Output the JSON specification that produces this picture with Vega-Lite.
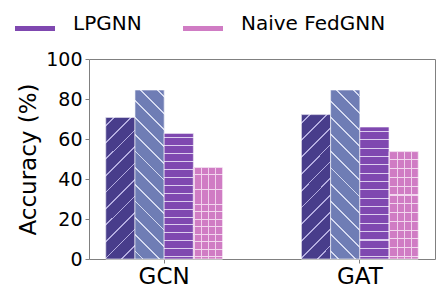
{
  "$schema": "https://vega.github.io/schema/vega-lite/v6.json",
  "width": 346,
  "height": 200,
  "autosize": {"type": "none"},
  "padding": {"left": 89, "top": 59, "right": 8, "bottom": 36},
  "config": {
    "font": "DejaVu Sans",
    "view": {"stroke": "#808080", "strokeWidth": 1},
    "axis": {"domainColor": "#808080", "tickColor": "#808080", "labelColor": "#000", "titleColor": "#000", "grid": false}
  },
  "data": {
    "values": [
      {"model": "GCN", "method": "Centralized GNN", "acc": 70.8},
      {"model": "GCN", "method": "Local GNN", "acc": 84.5},
      {"model": "GCN", "method": "LPGNN", "acc": 62.8},
      {"model": "GCN", "method": "Naive FedGNN", "acc": 45.8},
      {"model": "GAT", "method": "Centralized GNN", "acc": 72.2},
      {"model": "GAT", "method": "Local GNN", "acc": 84.5},
      {"model": "GAT", "method": "LPGNN", "acc": 66.0},
      {"model": "GAT", "method": "Naive FedGNN", "acc": 53.7}
    ]
  },
  "encoding": {
    "x": {
      "field": "model", "type": "nominal", "sort": ["GCN", "GAT"],
      "scale": {"paddingInner": 0.403, "paddingOuter": 0.0857},
      "axis": {"title": null, "labelAngle": 0, "labelFontSize": 23, "labelPadding": 2, "tickSize": 4, "domain": false}
    },
    "xOffset": {
      "field": "method", "type": "nominal",
      "sort": ["Centralized GNN", "Local GNN", "LPGNN", "Naive FedGNN"],
      "scale": {"domain": ["Centralized GNN", "Local GNN", "LPGNN", "Naive FedGNN"], "paddingInner": 0, "paddingOuter": 0}
    },
    "y": {
      "field": "acc", "type": "quantitative",
      "scale": {"domain": [0, 100], "nice": false},
      "axis": {"values": [0, 20, 40, 60, 80, 100], "title": "Accuracy (%)", "titleFontSize": 23, "titleFontWeight": "normal", "titlePadding": 5, "labelFontSize": 19, "labelPadding": 3, "tickSize": 4, "domain": false}
    }
  },
  "layer": [
    {
      "mark": {"type": "bar", "stroke": "white", "strokeWidth": 0.6},
      "encoding": {
        "color": {
          "field": "method", "type": "nominal",
          "scale": {
            "domain": ["Centralized GNN", "Local GNN", "LPGNN", "Naive FedGNN"],
            "range": ["#483D8B", "#6F7DB5", "#7F48B0", "#D07CC4"]
          },
          "legend": {
            "values": ["LPGNN", "Naive FedGNN"],
            "title": null,
            "orient": "none",
            "direction": "horizontal",
            "columns": 2,
            "legendX": -74,
            "legendY": -55,
            "symbolType": "M-1,0.1H1V0.35H-1Z",
            "symbolSize": 1600,
            "symbolStrokeWidth": 0,
            "labelFontSize": 20,
            "labelColor": "#000",
            "labelOffset": 18,
            "columnPadding": 41
          }
        }
      }
    },
    {
      "transform": [{"filter": "datum.method === 'Centralized GNN'"}],
      "mark": {"type": "bar", "stroke": "white", "strokeWidth": 0.6, "color": {"gradient": "linear", "x1": 0, "y1": 0, "x2": 0.2365, "y2": 1.1563, "stops": [
        {"offset": 0, "color": "#483D8B"},
        {"offset": 0.045, "color": "#483D8B"}, {"offset": 0.045, "color": "#B4ADE0"}, {"offset": 0.055, "color": "#B4ADE0"}, {"offset": 0.055, "color": "#483D8B"},
        {"offset": 0.142, "color": "#483D8B"}, {"offset": 0.142, "color": "#B4ADE0"}, {"offset": 0.152, "color": "#B4ADE0"}, {"offset": 0.152, "color": "#483D8B"},
        {"offset": 0.239, "color": "#483D8B"}, {"offset": 0.239, "color": "#B4ADE0"}, {"offset": 0.249, "color": "#B4ADE0"}, {"offset": 0.249, "color": "#483D8B"},
        {"offset": 0.336, "color": "#483D8B"}, {"offset": 0.336, "color": "#B4ADE0"}, {"offset": 0.346, "color": "#B4ADE0"}, {"offset": 0.346, "color": "#483D8B"},
        {"offset": 0.433, "color": "#483D8B"}, {"offset": 0.433, "color": "#B4ADE0"}, {"offset": 0.443, "color": "#B4ADE0"}, {"offset": 0.443, "color": "#483D8B"},
        {"offset": 0.530, "color": "#483D8B"}, {"offset": 0.530, "color": "#B4ADE0"}, {"offset": 0.540, "color": "#B4ADE0"}, {"offset": 0.540, "color": "#483D8B"},
        {"offset": 0.626, "color": "#483D8B"}, {"offset": 0.626, "color": "#B4ADE0"}, {"offset": 0.636, "color": "#B4ADE0"}, {"offset": 0.636, "color": "#483D8B"},
        {"offset": 0.723, "color": "#483D8B"}, {"offset": 0.723, "color": "#B4ADE0"}, {"offset": 0.733, "color": "#B4ADE0"}, {"offset": 0.733, "color": "#483D8B"},
        {"offset": 0.820, "color": "#483D8B"}, {"offset": 0.820, "color": "#B4ADE0"}, {"offset": 0.830, "color": "#B4ADE0"}, {"offset": 0.830, "color": "#483D8B"},
        {"offset": 0.917, "color": "#483D8B"}, {"offset": 0.917, "color": "#B4ADE0"}, {"offset": 0.927, "color": "#B4ADE0"}, {"offset": 0.927, "color": "#483D8B"},
        {"offset": 1, "color": "#483D8B"}
      ]}}
    },
    {
      "transform": [{"filter": "datum.method === 'Local GNN'"}],
      "mark": {"type": "bar", "stroke": "white", "strokeWidth": 0.6, "color": {"gradient": "linear", "x1": 0, "y1": 1, "x2": 0.197, "y2": -0.139, "stops": [
        {"offset": 0, "color": "#6F7DB5"},
        {"offset": 0.0355, "color": "#6F7DB5"}, {"offset": 0.0355, "color": "#D5DAF0"}, {"offset": 0.0445, "color": "#D5DAF0"}, {"offset": 0.0445, "color": "#6F7DB5"},
        {"offset": 0.1195, "color": "#6F7DB5"}, {"offset": 0.1195, "color": "#D5DAF0"}, {"offset": 0.1285, "color": "#D5DAF0"}, {"offset": 0.1285, "color": "#6F7DB5"},
        {"offset": 0.2035, "color": "#6F7DB5"}, {"offset": 0.2035, "color": "#D5DAF0"}, {"offset": 0.2125, "color": "#D5DAF0"}, {"offset": 0.2125, "color": "#6F7DB5"},
        {"offset": 0.2885, "color": "#6F7DB5"}, {"offset": 0.2885, "color": "#D5DAF0"}, {"offset": 0.2975, "color": "#D5DAF0"}, {"offset": 0.2975, "color": "#6F7DB5"},
        {"offset": 0.3725, "color": "#6F7DB5"}, {"offset": 0.3725, "color": "#D5DAF0"}, {"offset": 0.3815, "color": "#D5DAF0"}, {"offset": 0.3815, "color": "#6F7DB5"},
        {"offset": 0.4565, "color": "#6F7DB5"}, {"offset": 0.4565, "color": "#D5DAF0"}, {"offset": 0.4655, "color": "#D5DAF0"}, {"offset": 0.4655, "color": "#6F7DB5"},
        {"offset": 0.5405, "color": "#6F7DB5"}, {"offset": 0.5405, "color": "#D5DAF0"}, {"offset": 0.5495, "color": "#D5DAF0"}, {"offset": 0.5495, "color": "#6F7DB5"},
        {"offset": 0.6245, "color": "#6F7DB5"}, {"offset": 0.6245, "color": "#D5DAF0"}, {"offset": 0.6335, "color": "#D5DAF0"}, {"offset": 0.6335, "color": "#6F7DB5"},
        {"offset": 0.7095, "color": "#6F7DB5"}, {"offset": 0.7095, "color": "#D5DAF0"}, {"offset": 0.7185, "color": "#D5DAF0"}, {"offset": 0.7185, "color": "#6F7DB5"},
        {"offset": 0.7935, "color": "#6F7DB5"}, {"offset": 0.7935, "color": "#D5DAF0"}, {"offset": 0.8025, "color": "#D5DAF0"}, {"offset": 0.8025, "color": "#6F7DB5"},
        {"offset": 0.8775, "color": "#6F7DB5"}, {"offset": 0.8775, "color": "#D5DAF0"}, {"offset": 0.8865, "color": "#D5DAF0"}, {"offset": 0.8865, "color": "#6F7DB5"},
        {"offset": 0.9615, "color": "#6F7DB5"}, {"offset": 0.9615, "color": "#D5DAF0"}, {"offset": 0.9705, "color": "#D5DAF0"}, {"offset": 0.9705, "color": "#6F7DB5"},
        {"offset": 1, "color": "#6F7DB5"}
      ]}}
    },
    {
      "transform": [{"filter": "datum.method === 'LPGNN'"}],
      "mark": {"type": "bar", "stroke": "white", "strokeWidth": 0.6, "color": {"gradient": "linear", "x1": 0, "y1": 0, "x2": 0, "y2": 1, "stops": [
        {"offset": 0, "color": "#7F48B0"},
        {"offset": 0.030, "color": "#7F48B0"}, {"offset": 0.030, "color": "#DCCDEE"}, {"offset": 0.038, "color": "#DCCDEE"}, {"offset": 0.038, "color": "#7F48B0"},
        {"offset": 0.094, "color": "#7F48B0"}, {"offset": 0.094, "color": "#DCCDEE"}, {"offset": 0.102, "color": "#DCCDEE"}, {"offset": 0.102, "color": "#7F48B0"},
        {"offset": 0.157, "color": "#7F48B0"}, {"offset": 0.157, "color": "#DCCDEE"}, {"offset": 0.165, "color": "#DCCDEE"}, {"offset": 0.165, "color": "#7F48B0"},
        {"offset": 0.220, "color": "#7F48B0"}, {"offset": 0.220, "color": "#DCCDEE"}, {"offset": 0.228, "color": "#DCCDEE"}, {"offset": 0.228, "color": "#7F48B0"},
        {"offset": 0.283, "color": "#7F48B0"}, {"offset": 0.283, "color": "#DCCDEE"}, {"offset": 0.291, "color": "#DCCDEE"}, {"offset": 0.291, "color": "#7F48B0"},
        {"offset": 0.346, "color": "#7F48B0"}, {"offset": 0.346, "color": "#DCCDEE"}, {"offset": 0.354, "color": "#DCCDEE"}, {"offset": 0.354, "color": "#7F48B0"},
        {"offset": 0.409, "color": "#7F48B0"}, {"offset": 0.409, "color": "#DCCDEE"}, {"offset": 0.417, "color": "#DCCDEE"}, {"offset": 0.417, "color": "#7F48B0"},
        {"offset": 0.473, "color": "#7F48B0"}, {"offset": 0.473, "color": "#DCCDEE"}, {"offset": 0.481, "color": "#DCCDEE"}, {"offset": 0.481, "color": "#7F48B0"},
        {"offset": 0.536, "color": "#7F48B0"}, {"offset": 0.536, "color": "#DCCDEE"}, {"offset": 0.544, "color": "#DCCDEE"}, {"offset": 0.544, "color": "#7F48B0"},
        {"offset": 0.599, "color": "#7F48B0"}, {"offset": 0.599, "color": "#DCCDEE"}, {"offset": 0.607, "color": "#DCCDEE"}, {"offset": 0.607, "color": "#7F48B0"},
        {"offset": 0.662, "color": "#7F48B0"}, {"offset": 0.662, "color": "#DCCDEE"}, {"offset": 0.670, "color": "#DCCDEE"}, {"offset": 0.670, "color": "#7F48B0"},
        {"offset": 0.725, "color": "#7F48B0"}, {"offset": 0.725, "color": "#DCCDEE"}, {"offset": 0.733, "color": "#DCCDEE"}, {"offset": 0.733, "color": "#7F48B0"},
        {"offset": 0.788, "color": "#7F48B0"}, {"offset": 0.788, "color": "#DCCDEE"}, {"offset": 0.796, "color": "#DCCDEE"}, {"offset": 0.796, "color": "#7F48B0"},
        {"offset": 0.852, "color": "#7F48B0"}, {"offset": 0.852, "color": "#DCCDEE"}, {"offset": 0.860, "color": "#DCCDEE"}, {"offset": 0.860, "color": "#7F48B0"},
        {"offset": 0.915, "color": "#7F48B0"}, {"offset": 0.915, "color": "#DCCDEE"}, {"offset": 0.923, "color": "#DCCDEE"}, {"offset": 0.923, "color": "#7F48B0"},
        {"offset": 0.978, "color": "#7F48B0"}, {"offset": 0.978, "color": "#DCCDEE"}, {"offset": 0.986, "color": "#DCCDEE"}, {"offset": 0.986, "color": "#7F48B0"},
        {"offset": 1, "color": "#7F48B0"}
      ]}}
    },
    {
      "transform": [{"filter": "datum.method === 'Naive FedGNN'"}],
      "mark": {"type": "bar", "stroke": "white", "strokeWidth": 0.6, "color": {"gradient": "linear", "x1": 0, "y1": 0, "x2": 0, "y2": 1, "stops": [
        {"offset": 0, "color": "#D07CC4"},
        {"offset": 0.072, "color": "#D07CC4"}, {"offset": 0.072, "color": "#F2D6EE"}, {"offset": 0.082, "color": "#F2D6EE"}, {"offset": 0.082, "color": "#D07CC4"},
        {"offset": 0.154, "color": "#D07CC4"}, {"offset": 0.154, "color": "#F2D6EE"}, {"offset": 0.164, "color": "#F2D6EE"}, {"offset": 0.164, "color": "#D07CC4"},
        {"offset": 0.236, "color": "#D07CC4"}, {"offset": 0.236, "color": "#F2D6EE"}, {"offset": 0.246, "color": "#F2D6EE"}, {"offset": 0.246, "color": "#D07CC4"},
        {"offset": 0.318, "color": "#D07CC4"}, {"offset": 0.318, "color": "#F2D6EE"}, {"offset": 0.328, "color": "#F2D6EE"}, {"offset": 0.328, "color": "#D07CC4"},
        {"offset": 0.399, "color": "#D07CC4"}, {"offset": 0.399, "color": "#F2D6EE"}, {"offset": 0.409, "color": "#F2D6EE"}, {"offset": 0.409, "color": "#D07CC4"},
        {"offset": 0.481, "color": "#D07CC4"}, {"offset": 0.481, "color": "#F2D6EE"}, {"offset": 0.491, "color": "#F2D6EE"}, {"offset": 0.491, "color": "#D07CC4"},
        {"offset": 0.563, "color": "#D07CC4"}, {"offset": 0.563, "color": "#F2D6EE"}, {"offset": 0.573, "color": "#F2D6EE"}, {"offset": 0.573, "color": "#D07CC4"},
        {"offset": 0.645, "color": "#D07CC4"}, {"offset": 0.645, "color": "#F2D6EE"}, {"offset": 0.655, "color": "#F2D6EE"}, {"offset": 0.655, "color": "#D07CC4"},
        {"offset": 0.727, "color": "#D07CC4"}, {"offset": 0.727, "color": "#F2D6EE"}, {"offset": 0.737, "color": "#F2D6EE"}, {"offset": 0.737, "color": "#D07CC4"},
        {"offset": 0.808, "color": "#D07CC4"}, {"offset": 0.808, "color": "#F2D6EE"}, {"offset": 0.818, "color": "#F2D6EE"}, {"offset": 0.818, "color": "#D07CC4"},
        {"offset": 0.890, "color": "#D07CC4"}, {"offset": 0.890, "color": "#F2D6EE"}, {"offset": 0.900, "color": "#F2D6EE"}, {"offset": 0.900, "color": "#D07CC4"},
        {"offset": 0.972, "color": "#D07CC4"}, {"offset": 0.972, "color": "#F2D6EE"}, {"offset": 0.982, "color": "#F2D6EE"}, {"offset": 0.982, "color": "#D07CC4"},
        {"offset": 1, "color": "#D07CC4"}
      ]}}
    },
    {
      "transform": [{"filter": "datum.method === 'Naive FedGNN'"}],
      "mark": {"type": "bar", "color": {"gradient": "linear", "x1": 0, "y1": 0, "x2": 1, "y2": 0, "stops": [
        {"offset": 0, "color": "rgba(255,255,255,0)"},
        {"offset": 0.013, "color": "rgba(255,255,255,0)"}, {"offset": 0.013, "color": "rgba(242,214,238,0.95)"}, {"offset": 0.047, "color": "rgba(242,214,238,0.95)"}, {"offset": 0.047, "color": "rgba(255,255,255,0)"},
        {"offset": 0.259, "color": "rgba(255,255,255,0)"}, {"offset": 0.259, "color": "rgba(242,214,238,0.95)"}, {"offset": 0.293, "color": "rgba(242,214,238,0.95)"}, {"offset": 0.293, "color": "rgba(255,255,255,0)"},
        {"offset": 0.505, "color": "rgba(255,255,255,0)"}, {"offset": 0.505, "color": "rgba(242,214,238,0.95)"}, {"offset": 0.539, "color": "rgba(242,214,238,0.95)"}, {"offset": 0.539, "color": "rgba(255,255,255,0)"},
        {"offset": 0.751, "color": "rgba(255,255,255,0)"}, {"offset": 0.751, "color": "rgba(242,214,238,0.95)"}, {"offset": 0.785, "color": "rgba(242,214,238,0.95)"}, {"offset": 0.785, "color": "rgba(255,255,255,0)"},
        {"offset": 1, "color": "rgba(255,255,255,0)"}
      ]}}
    }
  ]
}
